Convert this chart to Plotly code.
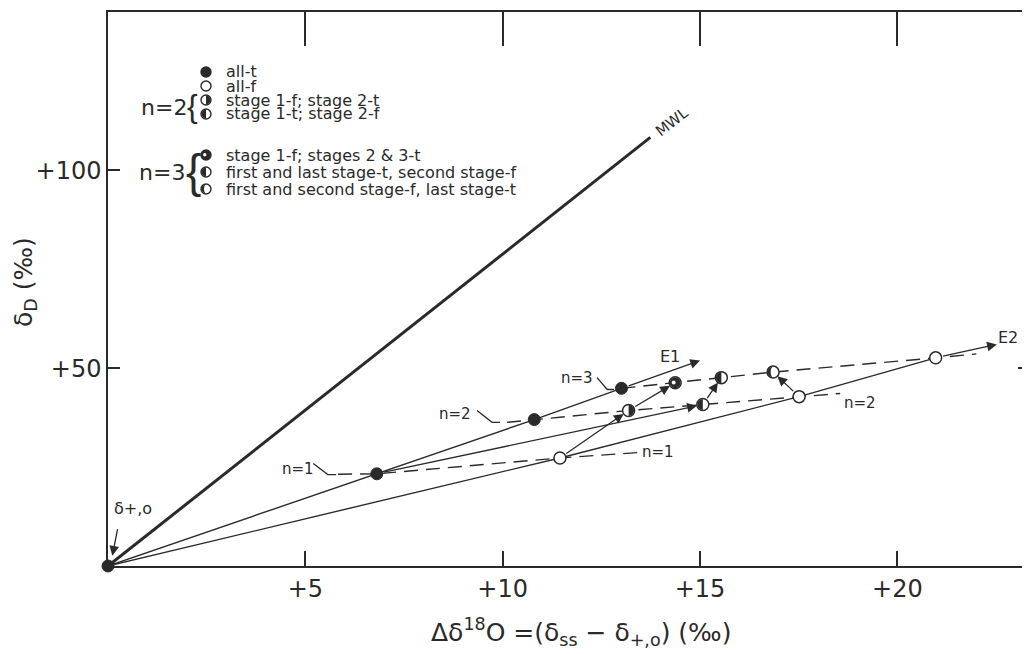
import plotly.graph_objects as go

# ---------------- data ----------------
X_RANGE = [0, 23.36]
Y_RANGE = [0, 140]
X_TICKS = [5, 10, 15, 20]
X_TICKTEXT = ["+5", "+10", "+15", "+20"]
Y_TICKS = [50, 100]
Y_TICKTEXT = ["+50", "+100"]

mwl_x = [0.0, 13.74]
mwl_y = [0.0, 108.3]

# all-t points (origin, n=1, n=2, n=3)
all_t_x = [0.0, 6.81, 10.80, 13.01]
all_t_y = [0.0, 23.3, 37.0, 44.9]
# all-f points (origin, n=1, n=2, n=3)
all_f_x = [0.0, 11.45, 17.51, 20.97]
all_f_y = [0.0, 27.3, 42.8, 52.6]
# mixed points
n2_ft = (13.19, 39.3)   # stage 1-f; stage 2-t
n2_tf = (15.07, 40.8)   # stage 1-t; stage 2-f
n3_ftt = (14.37, 46.3)  # stage 1-f; stages 2 & 3-t
n3_tft = (15.54, 47.6)  # first and last stage-t, second stage-f
n3_fft = (16.85, 49.0)  # first and second stage-f, last stage-t

e1_end = (15.0, 51.9)
e2_end = (22.52, 56.0)

# dashed iso-n lines
dash_n1_x = [5.83, 6.81, 11.45, 13.48]
dash_n1_y = [23.2, 23.3, 27.3, 28.7]
dash_n2_x = [10.11, 10.80, 13.19, 15.07, 17.51, 18.55]
dash_n2_y = [36.3, 37.0, 39.3, 40.8, 42.8, 43.6]
dash_n3_x = [13.01, 14.37, 15.54, 16.85, 20.97, 22.0]
dash_n3_y = [44.9, 46.3, 47.6, 49.0, 52.6, 53.6]

# label leaders
lead_n1_x = [5.20, 5.57, 5.78]
lead_n1_y = [25.9, 23.1, 23.1]
lead_n2_x = [9.35, 9.73, 9.93]
lead_n2_y = [39.3, 36.3, 36.3]
lead_n3_x = [12.39, 12.65, 12.82]
lead_n3_y = [47.6, 44.6, 44.6]

legend_labels = ["all-t", "all-f", "stage 1-f; stage 2-t", "stage 1-t; stage 2-f",
                 "stage 1-f; stages 2 & 3-t", "first and last stage-t, second stage-f",
                 "first and second stage-f, last stage-t"]
legend_kinds = ["full", "open", "right", "left", "dot", "left", "crescent"]
legend_rows_px = [72, 86, 100, 114, 155, 172, 189]

# ---------------- style ----------------
C = "#2a2a2a"
FONT = "DejaVu Sans"
PAGE_OFF = 8          # default body margin of the html page
W, H = 1030 - PAGE_OFF, 654 - PAGE_OFF
ML, MT, MR, MB = 108 - PAGE_OFF, 12 - PAGE_OFF, 0, 88
PW, PH = W - ML - MR, H - MT - MB


def pp(px, py):
    """page pixel -> paper coordinates"""
    fx, fy = px - PAGE_OFF, py - PAGE_OFF
    return (fx - ML) / PW, (H - MB - fy) / PH


def circle_path(r, cx=0.0, cy=0.0):
    k = 0.5523 * r
    return (f"M {cx+r},{cy} C {cx+r},{cy+k} {cx+k},{cy+r} {cx},{cy+r} "
            f"C {cx-k},{cy+r} {cx-r},{cy+k} {cx-r},{cy} "
            f"C {cx-r},{cy-k} {cx-k},{cy-r} {cx},{cy-r} "
            f"C {cx+k},{cy-r} {cx+r},{cy-k} {cx+r},{cy} Z")


def half_path(r, side):
    k = 0.5523 * r
    s = 1 if side == "right" else -1
    return f"M 0,{r} C {s*k},{r} {s*r},{k} {s*r},0 C {s*r},{-k} {s*k},{-r} 0,{-r} Z"


def crescent_path(r):
    k = 0.5523 * r
    r2 = 0.45 * r
    k2 = 0.5523 * r2
    return (f"M 0,{r} C {-k},{r} {-r},{k} {-r},0 C {-r},{-k} {-k},{-r} 0,{-r} "
            f"C {-k2},{-r} {-r2},{-k} {-r2},0 C {-r2},{k} {-k2},{r} 0,{r} Z")


def sym_shapes(x, y, kind, r, ref="data", outline=False):
    xr, yr = ("x", "y") if ref == "data" else ("paper", "paper")
    base = dict(type="path", xref=xr, yref=yr, xsizemode="pixel", ysizemode="pixel",
                xanchor=x, yanchor=y, layer="above")
    out = []
    if outline:
        fc = C if kind in ("full", "dot") else "white"
        out.append(dict(base, path=circle_path(r), fillcolor=fc, line=dict(color=C, width=1.4)))
    ri = r - 0.6
    if kind in ("right", "left"):
        out.append(dict(base, path=half_path(ri, kind), fillcolor=C, line=dict(width=0)))
    elif kind == "crescent":
        out.append(dict(base, path=crescent_path(ri), fillcolor=C, line=dict(width=0)))
    elif kind == "dot":
        if not outline:
            out.append(dict(base, path=circle_path(ri), fillcolor=C, line=dict(width=0)))
        out.append(dict(base, path=circle_path(r * 0.33, -r * 0.25, r * 0.05), fillcolor="white",
                        line=dict(width=0)))
    return out


fig = go.Figure()

# MWL
fig.add_trace(go.Scatter(x=mwl_x, y=mwl_y, mode="lines", line=dict(color=C, width=3),
                         hoverinfo="skip", showlegend=False, cliponaxis=False))
# solid evolution lines
fig.add_trace(go.Scatter(x=all_t_x, y=all_t_y, mode="lines", line=dict(color=C, width=1.4),
                         hoverinfo="skip", showlegend=False, cliponaxis=False))
fig.add_trace(go.Scatter(x=all_f_x, y=all_f_y, mode="lines", line=dict(color=C, width=1.4),
                         hoverinfo="skip", showlegend=False, cliponaxis=False))
# dashed lines
for dx, dy in [(dash_n1_x, dash_n1_y), (dash_n2_x, dash_n2_y), (dash_n3_x, dash_n3_y)]:
    fig.add_trace(go.Scatter(x=dx, y=dy, mode="lines", line=dict(color=C, width=1.4, dash="14px,8px"),
                             hoverinfo="skip", showlegend=False))
# leaders
for lx, ly in [(lead_n1_x, lead_n1_y), (lead_n2_x, lead_n2_y), (lead_n3_x, lead_n3_y)]:
    fig.add_trace(go.Scatter(x=lx, y=ly, mode="lines", line=dict(color=C, width=1.3),
                             hoverinfo="skip", showlegend=False))

# markers
fig.add_trace(go.Scatter(x=all_t_x, y=all_t_y, mode="markers",
                         marker=dict(size=12, color=C, line=dict(color=C, width=1)),
                         hoverinfo="skip", showlegend=False, cliponaxis=False))
fig.add_trace(go.Scatter(x=all_f_x[1:], y=all_f_y[1:], mode="markers",
                         marker=dict(size=12, color="white", line=dict(color=C, width=1.5)),
                         hoverinfo="skip", showlegend=False))
mixed = [(n2_ft, "right"), (n2_tf, "left"), (n3_ftt, "dot"), (n3_tft, "left"), (n3_fft, "crescent")]
fig.add_trace(go.Scatter(x=[p[0] for p, _ in mixed], y=[p[1] for p, _ in mixed], mode="markers",
                         marker=dict(size=12, color="white", line=dict(color=C, width=1.5)),
                         hoverinfo="skip", showlegend=False))
shapes = []
for p, kind in mixed:
    shapes += sym_shapes(p[0], p[1], kind, 6)

# invisible trace for secondary axes
fig.add_trace(go.Scatter(x=[None], y=[None], xaxis="x2", yaxis="y2", showlegend=False,
                         hoverinfo="skip"))

annotations = []


def arrow(p0, p1, ss=0, s=0):
    return dict(x=p1[0], y=p1[1], ax=p0[0], ay=p0[1], xref="x", yref="y", axref="x", ayref="y",
                text="", showarrow=True, arrowhead=2, arrowsize=1.5, arrowwidth=1.3,
                arrowcolor=C, standoff=s, startstandoff=ss)


p_t1 = (all_t_x[1], all_t_y[1])
p_t3 = (all_t_x[3], all_t_y[3])
p_f1 = (all_f_x[1], all_f_y[1])
p_f2 = (all_f_x[2], all_f_y[2])
p_f3 = (all_f_x[3], all_f_y[3])
annotations += [
    arrow(p_t3, e1_end, ss=6),
    arrow(p_f3, e2_end, ss=6),
    arrow(p_t1, n2_tf, ss=6, s=6),
    arrow(p_f1, n2_ft, ss=6, s=6),
    arrow(n2_ft, n3_ftt, ss=6, s=6),
    arrow(n2_tf, n3_tft, ss=6, s=6),
    arrow(p_f2, n3_fft, ss=6, s=6),
    arrow((0.25, 9.7), (0.10, 2.1), s=2),
]


def label(x, y, text, size=15, angle=0):
    return dict(x=x, y=y, xref="x", yref="y", text=text, showarrow=False,
                font=dict(family=FONT, size=size, color=C), textangle=angle,
                xanchor="center", yanchor="middle")


annotations += [
    label(4.82, 24.6, "n=1"),
    label(8.79, 38.5, "n=2"),
    label(11.89, 47.4, "n=3"),
    label(13.94, 28.7, "n=1"),
    label(19.06, 41.1, "n=2"),
    label(14.24, 52.9, "E1", 16),
    label(22.81, 57.7, "E2", 16),
    label(14.29, 112.1, "MWL", 15, -38),
    label(0.63, 14.5, "δ+,o", 16),
]

# legend
for txt, kind, row in zip(legend_labels, legend_kinds, legend_rows_px):
    sx, sy = pp(206, row)
    shapes += sym_shapes(sx, sy, kind, 5, ref="paper", outline=True)
    tx, ty = pp(224, row)
    annotations.append(dict(x=tx, y=ty, xref="paper", yref="paper", text=txt, showarrow=False,
                            xanchor="left", yanchor="middle",
                            font=dict(family=FONT, size=16, color=C)))
for txt, cx, cy in [("n=2", 164, 107), ("n=3", 162, 172)]:
    x, y = pp(cx, cy)
    annotations.append(dict(x=x, y=y, xref="paper", yref="paper", text=txt, showarrow=False,
                            xanchor="center", yanchor="middle",
                            font=dict(family=FONT, size=22, color=C)))
for cx, cy, sz in [(192, 106, 32), (193, 171, 46)]:
    x, y = pp(cx, cy)
    annotations.append(dict(x=x, y=y, xref="paper", yref="paper", text="{", showarrow=False,
                            xanchor="center", yanchor="middle",
                            font=dict(family="Liberation Sans", size=sz, color=C)))

# axis titles
x, y = pp(581, 632)
annotations.append(dict(x=x, y=y, xref="paper", yref="paper", showarrow=False,
                        text="Δδ<sup>18</sup>O =(δ<sub>ss</sub> − δ<sub>+,o</sub>) (‰)",
                        xanchor="center", yanchor="middle",
                        font=dict(family=FONT, size=25, color=C)))
x, y = pp(25, 282)
annotations.append(dict(x=x, y=y, xref="paper", yref="paper", showarrow=False,
                        text="δ<sub>D</sub> (‰)", textangle=-90,
                        xanchor="center", yanchor="middle",
                        font=dict(family=FONT, size=25, color=C)))

axis_common = dict(showgrid=False, zeroline=False, linecolor=C, linewidth=1.5,
                   tickcolor=C, tickwidth=1.5, ticks="inside")
fig.update_layout(
    width=W, height=H,
    margin=dict(l=ML, r=MR, t=MT, b=MB),
    paper_bgcolor="white", plot_bgcolor="white",
    showlegend=False,
    xaxis=dict(axis_common, range=X_RANGE, showline=True, tickvals=X_TICKS, ticktext=X_TICKTEXT,
               ticklen=15, tickfont=dict(family=FONT, size=24, color=C)),
    yaxis=dict(axis_common, range=Y_RANGE, showline=True, tickvals=Y_TICKS, ticktext=Y_TICKTEXT,
               ticklen=12, tickfont=dict(family=FONT, size=24, color=C)),
    xaxis2=dict(axis_common, overlaying="x", side="top", range=X_RANGE, showline=True,
                tickvals=X_TICKS, ticklen=34, showticklabels=False),
    yaxis2=dict(axis_common, overlaying="y", side="right", range=Y_RANGE, showline=False,
                tickvals=[50], ticklen=12, showticklabels=False),
    shapes=shapes,
    annotations=annotations,
)

fig.write_html("out.html")
